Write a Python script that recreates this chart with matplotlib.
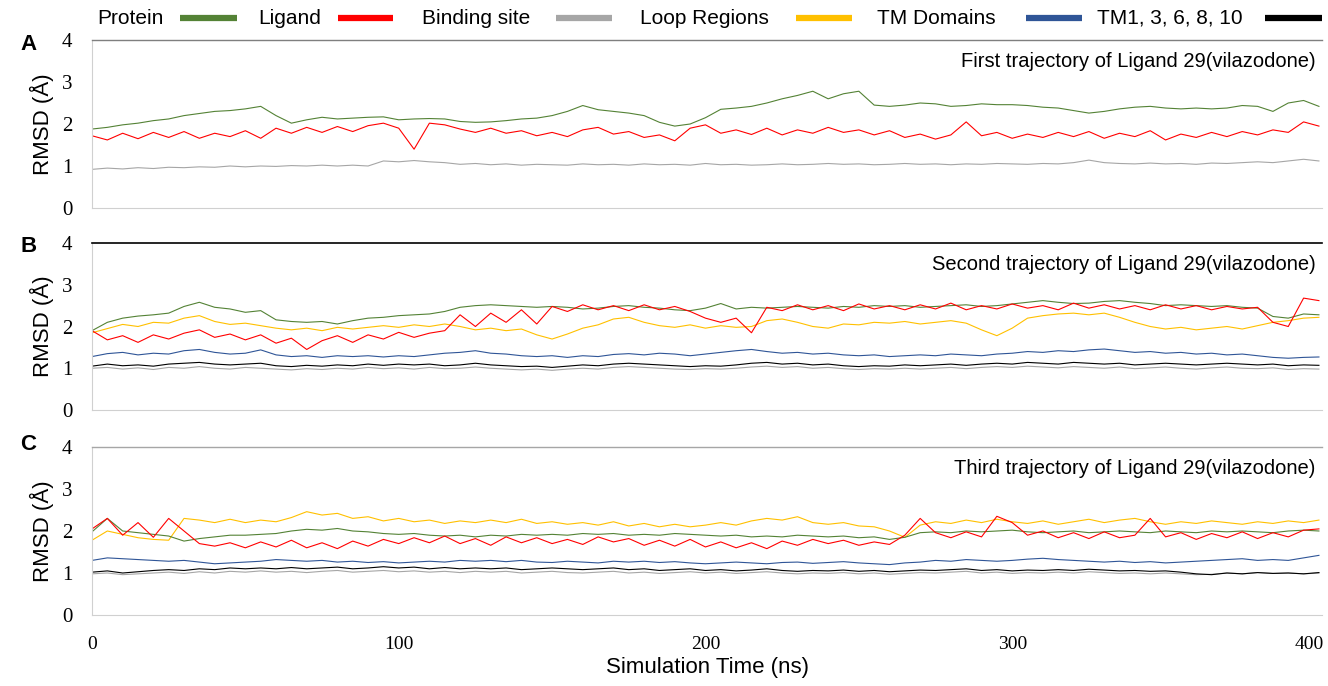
import numpy as np
import matplotlib
matplotlib.use("Agg")
import matplotlib.pyplot as plt
from matplotlib.lines import Line2D

# ---------------- data (RMSD in Å, sampled every 5 ns from 0 to 400 ns) ----------------
a_protein = [1.88,1.92,1.98,2.02,2.08,2.12,2.2,2.25,2.3,2.32,2.36,2.42,2.2,2.02,2.1,2.16,2.12,2.14,2.16,2.17,
             2.1,2.12,2.13,2.12,2.06,2.04,2.05,2.08,2.12,2.14,2.2,2.3,2.44,2.34,2.3,2.26,2.2,2.04,1.95,2.0,
             2.15,2.35,2.38,2.42,2.5,2.6,2.68,2.78,2.6,2.72,2.78,2.45,2.42,2.45,2.5,2.48,2.42,2.44,2.48,2.46,
             2.46,2.44,2.4,2.38,2.32,2.26,2.3,2.36,2.4,2.42,2.38,2.36,2.38,2.36,2.38,2.44,2.42,2.3,2.5,2.56,2.42]
a_ligand = [1.72,1.62,1.78,1.65,1.8,1.68,1.82,1.66,1.78,1.7,1.84,1.66,1.9,1.78,1.92,1.8,1.94,1.82,1.96,2.02,
            1.9,1.4,2.02,1.98,1.88,1.8,1.9,1.78,1.84,1.72,1.8,1.7,1.86,1.92,1.76,1.82,1.68,1.74,1.6,1.9,
            1.98,1.78,1.86,1.75,1.9,1.74,1.86,1.78,1.92,1.8,1.86,1.74,1.84,1.68,1.76,1.64,1.74,2.05,1.72,1.8,
            1.66,1.76,1.68,1.8,1.7,1.82,1.66,1.78,1.7,1.84,1.62,1.76,1.68,1.8,1.7,1.82,1.74,1.86,1.8,2.05,1.95]
a_site = [0.92,0.95,0.93,0.96,0.94,0.97,0.96,0.98,0.97,1.0,0.98,1.0,0.99,1.01,1.0,1.02,1.0,1.02,1.0,1.12,
          1.1,1.13,1.1,1.08,1.04,1.06,1.03,1.05,1.02,1.04,1.03,1.02,1.05,1.03,1.04,1.02,1.05,1.03,1.04,1.02,
          1.06,1.03,1.04,1.02,1.03,1.05,1.03,1.04,1.06,1.04,1.05,1.03,1.04,1.06,1.04,1.05,1.03,1.05,1.04,1.06,
          1.05,1.04,1.06,1.05,1.08,1.14,1.08,1.06,1.05,1.07,1.05,1.06,1.04,1.07,1.06,1.08,1.1,1.08,1.12,1.16,1.12]

b_protein = [1.9,2.1,2.2,2.25,2.28,2.32,2.48,2.58,2.46,2.42,2.34,2.38,2.16,2.12,2.1,2.12,2.06,2.14,2.2,2.22,
             2.26,2.28,2.3,2.36,2.46,2.5,2.52,2.5,2.48,2.46,2.48,2.46,2.42,2.44,2.48,2.5,2.46,2.44,2.4,2.38,
             2.44,2.55,2.42,2.46,2.44,2.46,2.48,2.46,2.44,2.48,2.46,2.5,2.48,2.5,2.46,2.48,2.5,2.52,2.48,2.5,
             2.54,2.58,2.62,2.58,2.55,2.56,2.6,2.62,2.58,2.55,2.5,2.52,2.5,2.48,2.5,2.46,2.44,2.24,2.2,2.3,2.28]
b_ligand = [1.9,1.68,1.78,1.62,1.8,1.7,1.84,1.92,1.74,1.82,1.68,1.8,1.6,1.72,1.45,1.66,1.78,1.62,1.8,1.7,
            1.86,1.74,1.84,1.9,2.28,2.0,2.32,2.1,2.4,2.06,2.48,2.36,2.52,2.4,2.5,2.38,2.52,2.4,2.48,2.36,
            2.2,2.1,2.2,1.85,2.46,2.38,2.52,2.4,2.5,2.38,2.54,2.42,2.5,2.4,2.52,2.42,2.56,2.4,2.5,2.42,
            2.54,2.44,2.5,2.4,2.56,2.44,2.52,2.42,2.5,2.4,2.52,2.42,2.5,2.4,2.48,2.42,2.46,2.1,2.0,2.68,2.62]
b_site = [1.0,1.02,0.98,1.01,0.97,1.02,1.0,1.04,1.0,0.98,1.02,1.0,0.98,0.96,0.99,0.97,1.0,0.98,1.02,0.99,
          1.01,0.98,1.02,0.99,1.0,1.03,1.0,0.98,0.96,0.98,0.95,0.98,1.0,0.98,1.02,1.04,1.02,1.0,0.98,0.97,
          0.99,0.98,1.0,1.03,1.05,1.02,1.04,1.0,1.02,0.99,0.97,0.99,0.98,1.0,0.98,1.0,1.02,0.99,1.02,1.04,
          1.02,1.05,1.03,1.01,1.04,1.02,1.0,1.03,0.99,1.01,1.03,1.0,0.98,1.01,1.03,1.0,0.99,1.01,0.97,0.99,0.98]
b_loop = [1.85,1.95,2.05,2.0,2.1,2.08,2.2,2.26,2.12,2.05,2.08,2.02,1.96,1.92,1.96,1.9,1.98,1.94,1.98,2.02,
          1.98,2.04,2.0,2.06,2.0,1.92,1.96,1.9,1.94,1.8,1.7,1.82,1.96,2.04,2.18,2.22,2.1,2.02,1.98,2.04,
          1.96,2.02,1.98,2.0,2.14,2.18,2.1,2.0,1.96,2.06,2.04,2.1,2.08,2.12,2.06,2.1,2.14,2.08,1.92,1.78,
          1.96,2.2,2.26,2.3,2.32,2.28,2.32,2.22,2.1,2.0,1.94,1.98,1.92,1.96,2.0,1.94,2.02,2.1,2.14,2.2,2.22]
b_tm = [1.28,1.35,1.38,1.32,1.36,1.34,1.42,1.45,1.38,1.34,1.36,1.44,1.32,1.28,1.3,1.26,1.3,1.28,1.3,1.27,
        1.3,1.28,1.32,1.36,1.38,1.42,1.36,1.34,1.3,1.28,1.3,1.26,1.3,1.28,1.33,1.35,1.32,1.36,1.34,1.3,
        1.34,1.38,1.42,1.45,1.4,1.36,1.38,1.34,1.36,1.32,1.3,1.32,1.28,1.3,1.32,1.3,1.34,1.32,1.3,1.34,
        1.36,1.4,1.38,1.42,1.4,1.44,1.46,1.42,1.38,1.4,1.36,1.38,1.34,1.36,1.32,1.34,1.3,1.26,1.24,1.26,1.27]
b_tm1 = [1.05,1.1,1.06,1.08,1.05,1.1,1.12,1.14,1.1,1.08,1.1,1.12,1.06,1.04,1.07,1.05,1.08,1.06,1.1,1.07,
         1.1,1.08,1.1,1.06,1.08,1.12,1.08,1.06,1.04,1.05,1.02,1.05,1.08,1.06,1.1,1.12,1.1,1.08,1.06,1.04,
         1.06,1.05,1.08,1.12,1.14,1.1,1.12,1.08,1.1,1.06,1.04,1.06,1.05,1.08,1.06,1.08,1.1,1.07,1.1,1.12,
         1.1,1.14,1.12,1.1,1.14,1.12,1.1,1.12,1.08,1.1,1.12,1.1,1.08,1.1,1.12,1.1,1.08,1.1,1.06,1.08,1.07]

c_protein = [1.98,2.3,2.0,1.96,1.92,1.88,1.76,1.82,1.86,1.9,1.9,1.92,1.94,2.0,2.04,2.02,2.06,2.0,1.98,1.94,
             1.92,1.94,1.9,1.88,1.9,1.86,1.9,1.88,1.92,1.9,1.92,1.9,1.94,1.92,1.94,1.9,1.92,1.9,1.94,1.92,
             1.9,1.88,1.9,1.86,1.88,1.86,1.9,1.88,1.86,1.88,1.84,1.86,1.8,1.85,1.96,1.98,1.96,2.0,1.98,2.0,
             2.02,1.98,1.96,1.98,2.0,1.96,1.98,2.0,1.98,1.96,2.0,1.98,1.96,2.0,1.98,2.0,1.98,1.96,2.0,2.02,2.0]
c_ligand = [2.05,2.3,1.9,2.2,1.85,2.3,2.0,1.7,1.64,1.72,1.6,1.74,1.62,1.78,1.6,1.72,1.58,1.76,1.64,1.8,
            1.7,1.84,1.72,1.88,1.7,1.82,1.66,1.86,1.72,1.84,1.7,1.8,1.68,1.86,1.74,1.82,1.66,1.78,1.64,1.8,
            1.62,1.74,1.6,1.72,1.58,1.76,1.66,1.8,1.7,1.78,1.66,1.74,1.68,1.9,2.3,1.96,1.84,1.98,1.86,2.35,
            2.2,1.9,2.0,1.84,1.96,1.82,1.98,1.84,1.9,2.3,1.86,1.96,1.8,1.94,1.84,1.98,1.82,1.96,1.86,2.02,2.05]
c_site = [0.98,1.0,0.96,0.98,1.0,1.02,0.99,1.03,1.0,1.04,1.02,1.05,1.02,1.04,1.01,1.04,1.06,1.02,1.04,1.06,
          1.03,1.05,1.02,1.04,1.01,1.04,1.02,1.04,1.0,1.02,1.04,1.01,1.0,1.02,1.04,1.0,1.02,0.99,1.01,1.03,
          1.0,1.02,0.99,1.01,1.03,1.0,0.98,1.0,0.99,1.01,0.98,1.0,0.97,0.99,1.01,1.0,1.02,1.04,1.0,1.02,
          0.99,1.01,1.0,1.02,1.0,1.03,1.01,0.99,1.0,0.98,1.0,0.98,0.96,0.97,1.0,0.98,1.01,0.99,1.0,0.98,1.0]
c_loop = [1.78,2.0,1.92,1.84,1.8,1.78,2.3,2.26,2.2,2.28,2.2,2.26,2.22,2.32,2.46,2.38,2.42,2.3,2.34,2.24,
          2.3,2.22,2.26,2.18,2.24,2.2,2.26,2.2,2.28,2.18,2.22,2.16,2.2,2.14,2.22,2.12,2.18,2.1,2.16,2.1,
          2.14,2.2,2.14,2.24,2.3,2.26,2.34,2.2,2.16,2.2,2.12,2.1,2.0,1.85,2.14,2.22,2.18,2.26,2.2,2.28,
          2.22,2.18,2.24,2.16,2.22,2.28,2.2,2.26,2.3,2.22,2.16,2.22,2.18,2.24,2.2,2.16,2.22,2.18,2.24,2.2,2.26]
c_tm = [1.3,1.36,1.34,1.32,1.3,1.28,1.3,1.26,1.22,1.24,1.26,1.28,1.32,1.3,1.28,1.3,1.26,1.28,1.25,1.27,
        1.24,1.26,1.28,1.26,1.3,1.28,1.3,1.27,1.3,1.26,1.25,1.28,1.26,1.24,1.28,1.26,1.28,1.25,1.27,1.24,
        1.22,1.24,1.26,1.24,1.22,1.25,1.26,1.23,1.25,1.27,1.24,1.22,1.2,1.24,1.26,1.3,1.28,1.32,1.3,1.28,
        1.3,1.33,1.35,1.32,1.3,1.28,1.26,1.28,1.25,1.27,1.24,1.26,1.28,1.3,1.32,1.34,1.3,1.32,1.3,1.36,1.42]
c_tm1 = [1.02,1.05,1.0,1.03,1.06,1.08,1.06,1.1,1.08,1.12,1.1,1.12,1.1,1.13,1.1,1.12,1.14,1.1,1.12,1.15,
         1.12,1.14,1.1,1.13,1.1,1.12,1.1,1.12,1.08,1.1,1.12,1.1,1.08,1.1,1.12,1.08,1.1,1.06,1.08,1.1,
         1.06,1.08,1.05,1.07,1.1,1.06,1.04,1.06,1.05,1.07,1.04,1.06,1.03,1.05,1.07,1.06,1.08,1.1,1.06,1.08,
         1.05,1.07,1.06,1.08,1.06,1.09,1.07,1.05,1.06,1.04,1.05,1.02,0.98,0.96,1.0,0.98,1.01,0.99,1.0,0.98,1.01]

legend_labels = ["Protein", "Ligand", "Binding site", "Loop Regions", "TM Domains", "TM1, 3, 6, 8, 10"]
panel_titles = ["First trajectory of Ligand 29(vilazodone)",
                "Second trajectory of Ligand 29(vilazodone)",
                "Third trajectory of Ligand 29(vilazodone)"]
panel_letters = ["A", "B", "C"]
x_ticks = [0, 100, 200, 300, 400]
y_ticks = [0, 1, 2, 3, 4]

# ---------------- styling ----------------
C_PROT = "#548235"
C_LIG = "#ff0000"
C_SITE = "#a6a6a6"
C_LOOP = "#ffc000"
C_TM = "#2f5597"
C_TM1 = "#000000"
colors = [C_PROT, C_LIG, C_SITE, C_LOOP, C_TM, C_TM1]

SANS = ["Liberation Sans", "DejaVu Sans"]
SERIF = ["Liberation Serif", "DejaVu Serif"]

fig = plt.figure(figsize=(13.28, 6.86), dpi=100)
W, H = 1328.0, 686.0

def axrect(top_px, bot_px, left_px=92, right_px=1322):
    return [left_px / W, 1 - bot_px / H, (right_px - left_px) / W, (bot_px - top_px) / H]

panels = [
    (axrect(40, 208), {"site": a_site, "prot": a_protein, "lig": a_ligand}, "#7f7f7f", 45),
    (axrect(243, 410), {"site": b_site, "tm1": b_tm1, "tm": b_tm, "loop": b_loop, "prot": b_protein, "lig": b_ligand}, "#000000", 247),
    (axrect(447, 615), {"site": c_site, "tm1": c_tm1, "tm": c_tm, "loop": c_loop, "prot": c_protein, "lig": c_ligand}, "#a6a6a6", 445),
]
cmap = {"prot": C_PROT, "lig": C_LIG, "site": C_SITE, "loop": C_LOOP, "tm": C_TM, "tm1": C_TM1}
order = ["site", "tm1", "tm", "loop", "prot", "lig"]

for i, (rect, series, topcol, letter_y) in enumerate(panels):
    ax = fig.add_axes(rect)
    for key in order:
        if key in series:
            v = np.asarray(series[key], dtype=float)
            t = np.linspace(0, 400, len(v))
            ax.plot(t, v, color=cmap[key], lw=0.8)
    ax.set_xlim(0, 401)
    ax.set_ylim(0, 4)
    ax.set_yticks(y_ticks)
    ax.set_yticklabels([str(y) for y in y_ticks], family=SERIF, fontsize=15)
    ax.set_xticks(x_ticks)
    ax.set_xticklabels([])
    if i == 2:
        for x in x_ticks:
            dx = -7 if x == x_ticks[-1] else 0
            ax.annotate(str(x), xy=(x, 0), xycoords=("data", "axes fraction"),
                        xytext=(dx, -15), textcoords="offset points",
                        ha="center", va="top", family=SERIF, fontsize=14,
                        annotation_clip=False)
    ax.tick_params(length=0, pad=14)
    ax.spines["right"].set_visible(False)
    ax.spines["left"].set_color("#d0d0d0")
    ax.spines["bottom"].set_color("#d0d0d0")
    ax.spines["top"].set_color(topcol)
    ax.spines["top"].set_linewidth(1.2 if i == 1 else 1.0)
    ax.set_ylabel("RMSD (Å)", family=SANS, fontsize=16, labelpad=6)
    ax.text(0.995, 0.93, panel_titles[i], transform=ax.transAxes, ha="right", va="top",
            family=SANS, fontsize=14.5)
    fig.text(20 / W, 1 - letter_y / H, panel_letters[i], family=SANS,
             fontsize=16, fontweight="bold", ha="left", va="center")

fig.text(707 / W, 1 - 667 / H, "Simulation Time (ns)", family=SANS, fontsize=16,
         ha="center", va="center")

# legend along the top (text followed by a line sample)
text_x = [97, 258, 422, 640, 877, 1097]
line_x = [(180, 237), (338, 393), (556, 612), (796, 852), (1026, 1082), (1265, 1322)]
ly = 1 - 18 / H
for lab, tx, (x0, x1), col in zip(legend_labels, text_x, line_x, colors):
    fig.text(tx / W, ly, lab, family=SANS, fontsize=15, ha="left", va="center")
    fig.add_artist(Line2D([x0 / W, x1 / W], [ly, ly], color=col, lw=4.5,
                          transform=fig.transFigure, solid_capstyle="butt"))

fig.savefig("out.png", dpi=100)
